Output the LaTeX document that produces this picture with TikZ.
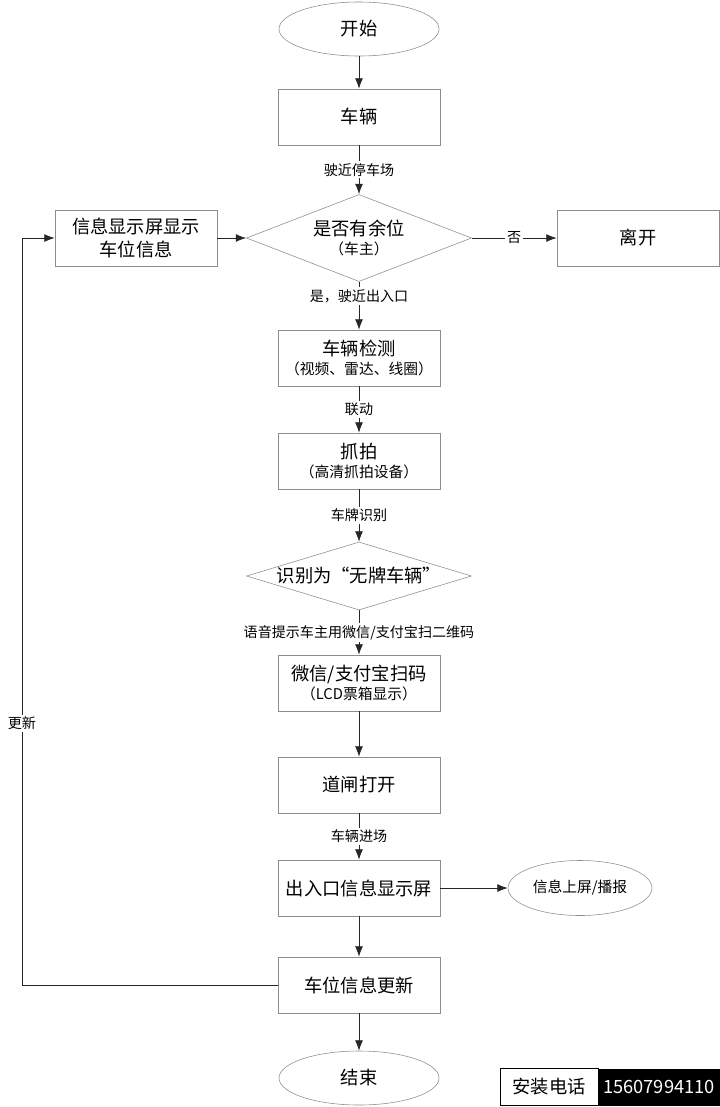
\documentclass[tikz,border=0pt]{standalone}
\usepackage{fontspec}
\setmainfont{Noto Sans CJK SC}
\usetikzlibrary{shapes.geometric}
\usetikzlibrary{arrows.meta}

\begin{document}
\begin{tikzpicture}[x=0.025cm,y=-0.025cm, % 1 unit = 1 px of the sketch
        box/.style={draw=black!45,rectangle,minimum width=4.05cm,minimum height=1.4cm,inner sep=1pt,align=center,font=\fontsize{13}{16}\selectfont},
        oval/.style={draw=black!45,ellipse,minimum width=4cm,minimum height=1.35cm,inner sep=0pt,font=\fontsize{13}{16}\selectfont},
        choice/.style={draw=black!45,diamond,inner sep=0pt,align=center,font=\fontsize{13}{16}\selectfont},
        lbl/.style={fill=white,inner sep=1.5pt,font=\fontsize{10}{12}\selectfont},
        arr/.style={-{Latex[length=2.6mm,width=2mm]},draw=black!85,line width=0.6pt}]
        \useasboundingbox (0,0) rectangle (720,1107);
        \newcommand{\sub}[1]{{\fontsize{10.5}{13}\selectfont #1}}

        \node[oval] (start) at (359,29) {开始};
        \node[box] (car) at (359,117) {车辆};
        \node[choice,shape aspect=2.6,minimum width=5.625cm,minimum height=2.175cm] (free) at (359,238) {是否有余位\\[-2pt]\sub{（车主）}};
        \node[box] (info) at (136,238) {信息显示屏显示\\车位信息};
        \node[box] (leave) at (638,238) {离开};
        \node[box] (detect) at (359,358) {车辆检测\\[-2pt]\sub{（视频、雷达、线圈）}};
        \node[box] (snap) at (359,461) {抓拍\\[-2pt]\sub{（高清抓拍设备）}};
        \node[choice,shape aspect=3.5,minimum width=5.625cm,minimum height=1.7cm] (plate) at (359,576) {识别为“无牌车辆”};
        \node[box] (scan) at (359,683) {微信/支付宝扫码\\[-2pt]\sub{（LCD票箱显示）}};
        \node[box] (gate) at (359,785) {道闸打开};
        \node[box] (screen) at (359,888) {出入口信息显示屏};
        \node[oval,minimum width=3.6cm,minimum height=1.375cm,font=\fontsize{10.5}{12}\selectfont] (show) at (580,888) {信息上屏/播报};
        \node[box] (update) at (359,985) {车位信息更新};
        \node[oval] (stop) at (359,1078) {结束};

        \draw[arr] (start) -- (car);
        \draw[arr] (car) -- node[lbl] {驶近停车场} (free);
        \draw[arr] (info) -- (free);
        \draw[arr] (free) -- node[lbl] {否} (leave);
        \draw[arr] (free) -- node[lbl,pos=0.3] {是，驶近出入口} (detect);
        \draw[arr] (detect) -- node[lbl] {联动} (snap);
        \draw[arr] (snap) -- node[lbl] {车牌识别} (plate);
        \draw[arr] (plate) -- node[lbl] {语音提示车主用微信/支付宝扫二维码} (scan);
        \draw[arr] (scan) -- (gate);
        \draw[arr] (gate) -- node[lbl] {车辆进场} (screen);
        \draw[arr] (screen) -- (show);
        \draw[arr] (screen) -- (update);
        \draw[arr] (update) -- (stop);

        % loop back
        \coordinate (lb) at (22,985);
        \coordinate (lt) at (22,238);
        \draw[arr] (update.west) -- (lb) -- node[lbl,pos=0.35] {更新} (lt) -- (info.west);

        % phone tag
        \node[draw=black,fill=white,minimum width=2.45cm,minimum height=0.925cm,inner sep=0pt,font=\fontsize{13}{15}\selectfont] (tel) at (549,1087) {安装电话};
        \node[fill=black,text=white,minimum width=3.05cm,minimum height=0.925cm,inner sep=0pt,font=\fontsize{13}{15}\selectfont] (num) at (659,1087) {15607994110};
    \end{tikzpicture}
\end{document}
